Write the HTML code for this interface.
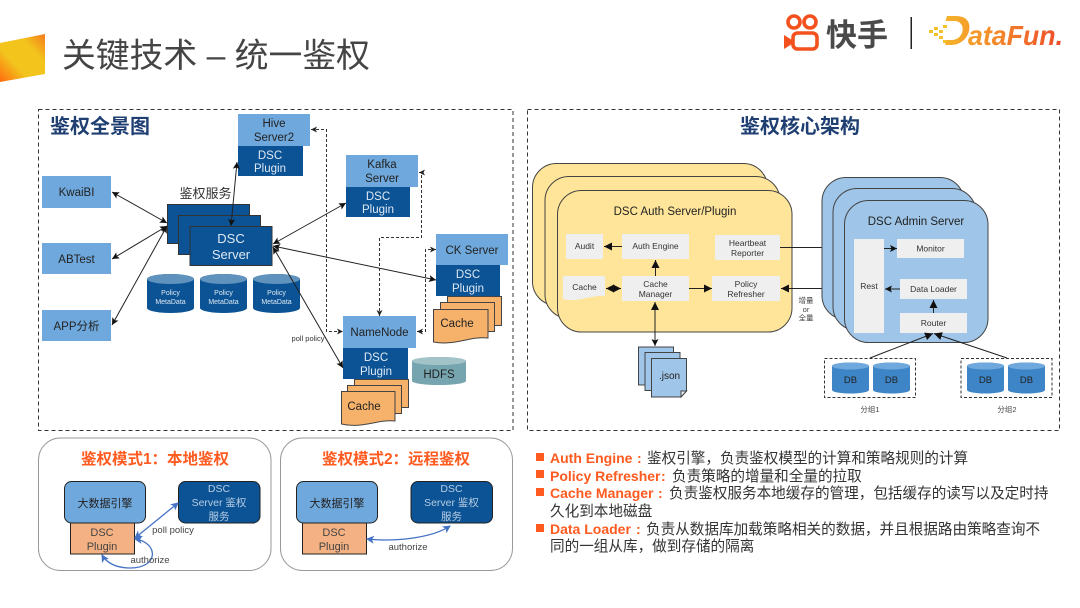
<!DOCTYPE html>
<html><head><meta charset="utf-8">
<style>
html,body{margin:0;padding:0;background:#fff;width:1080px;height:608px;overflow:hidden}
svg{display:block}
text{font-family:"Liberation Sans","Noto Sans CJK SC",sans-serif;text-anchor:middle}
.w{fill:#dfe9f4}.k{fill:#222}.g{fill:#333}
.l{stroke:#222;stroke-width:1;fill:none}
.d{stroke:#333;stroke-width:1;fill:none;stroke-dasharray:3 2}
.box{fill:#efefef}
.t{text-anchor:start;font-size:14.6px}
.o{fill:#ff5a1f;font-weight:700;font-size:14px}
</style></head><body>
<svg width="1080" height="608" viewBox="0 0 1080 608" xmlns="http://www.w3.org/2000/svg">
<defs>
<marker id="a" markerWidth="8" markerHeight="8" refX="7" refY="3.5" orient="auto-start-reverse" markerUnits="userSpaceOnUse"><path d="M0 0L7 3.5L0 7L1.5 3.5z" fill="#111"/></marker>
<marker id="e" markerWidth="7" markerHeight="7" refX="6" refY="3" orient="auto-start-reverse" markerUnits="userSpaceOnUse"><path d="M0 0L6 3L0 6L1.500 3z" fill="#222"/></marker>
<marker id="b" markerWidth="9" markerHeight="9" refX="8" refY="4" orient="auto-start-reverse" markerUnits="userSpaceOnUse"><path d="M0 0L8 4L0 8z" fill="#111"/></marker>
<marker id="c" markerWidth="9" markerHeight="9" refX="7" refY="4" orient="auto-start-reverse" markerUnits="userSpaceOnUse"><path d="M0 0L8 4L0 8L2 4z" fill="#4472c4"/></marker>
<linearGradient id="f" x1="0" y1="1" x2="1" y2="0"><stop offset="0" stop-color="#ff6a10"/><stop offset=".35" stop-color="#f2c41c"/><stop offset=".7" stop-color="#f2c41c"/><stop offset="1" stop-color="#f77a1c"/></linearGradient>
<linearGradient id="df" gradientUnits="userSpaceOnUse" x1="930" y1="0" x2="1063" y2="0"><stop offset="0" stop-color="#f6c02a"/><stop offset=".5" stop-color="#f4882a"/><stop offset="1" stop-color="#ee4b2a"/></linearGradient>
</defs>

<!-- header -->
<polygon points="0,43 45,34 45,74 0,82" fill="url(#f)"/>
<text x="62" y="67" style="text-anchor:start;font-size:33.8px" fill="#444">关键技术 – 统一鉴权</text>
<g fill="none" stroke="#f4511e" stroke-width="3.6">
<circle cx="794" cy="22" r="6"/><circle cx="810" cy="22" r="6"/>
<rect x="793" y="33" width="24" height="16" rx="4.500"/></g>
<path d="M784 35l8 5v4l-8 5z" fill="#f4511e"/>
<text x="857" y="46" style="font-size:31px;font-weight:700" fill="#4a4a4a">快手</text>
<rect x="910.500" y="17" width="1.500" height="32" fill="#222"/>
<g fill="#f6c02a"><rect x="929" y="30" width="4" height="3"/><rect x="934" y="27" width="4" height="3"/><rect x="934" y="33" width="4" height="3"/><rect x="939" y="30" width="4" height="3"/><rect x="939" y="36" width="4" height="3"/><rect x="943" y="25" width="4" height="3"/><rect x="943" y="40" width="4" height="3"/></g>
<path d="M947 16h9c11 0 15 7 13 15-2 8-9 14-18 14h-6l1.500-5h5c6 0 10-4 11-9s-2-10-8-10h-9z" fill="url(#df)"/>
<text x="1015.500" y="45" style="font-size:28px;font-weight:700;font-style:italic" fill="url(#df)" textLength="95" lengthAdjust="spacingAndGlyphs">ataFun.</text>

<!-- frames -->
<rect x="38.500" y="109.500" width="474.500" height="321" fill="none" stroke="#333" stroke-dasharray="4 3"/>
<rect x="527.500" y="109.500" width="532" height="321" fill="none" stroke="#333" stroke-dasharray="4 3"/>
<text x="100" y="133" style="font-size:20px;font-weight:700" fill="#1f3f73">鉴权全景图</text>
<text x="800" y="133" style="font-size:20px;font-weight:700" fill="#1f3f73">鉴权核心架构</text>

<!-- left nodes -->
<g fill="#6fa8dc">
<rect x="42" y="176" width="69" height="32"/><rect x="42" y="243" width="69" height="31"/><rect x="42" y="310" width="69" height="31"/>
<rect x="238" y="114" width="72" height="32"/><rect x="346" y="155" width="72" height="32"/><rect x="436" y="234" width="72" height="31"/><rect x="343" y="316" width="73" height="32"/></g>
<g font-size="11.500" class="k"><text x="76.500" y="196">KwaiBI</text><text x="76.500" y="263">ABTest</text><text x="76.500" y="330">APP分析</text></g>
<g fill="#0b5394">
<rect x="238" y="146" width="65" height="30"/><rect x="346" y="187" width="64" height="30"/><rect x="436" y="265" width="64" height="31"/><rect x="343" y="348" width="65" height="31"/></g>
<g font-size="11.500" class="k"><text x="274" y="127">Hive</text><text x="274" y="141">Server2</text>
<text x="382" y="168">Kafka</text><text x="382" y="182">Server</text><text x="472" y="254">CK Server</text><text x="379.500" y="336">NameNode</text></g>
<g font-size="11.500" class="w"><text x="270" y="159">DSC</text><text x="270" y="172">Plugin</text>
<text x="378" y="200">DSC</text><text x="378" y="213">Plugin</text><text x="468" y="278">DSC</text><text x="468" y="292">Plugin</text><text x="376" y="361">DSC</text><text x="376" y="375">Plugin</text></g>

<text x="205.500" y="198" style="font-size:13px" fill="#333">鉴权服务</text>
<g fill="#0b5394" stroke="#333" stroke-width="1"><rect x="167.500" y="204.500" width="82" height="39"/><rect x="178.500" y="215.500" width="82" height="39"/><rect x="190" y="226.500" width="82" height="39"/></g>
<text x="231" y="243" style="font-size:13px" class="w">DSC</text><text x="231" y="259" style="font-size:13px" class="w">Server</text>

<!-- policy cylinders -->
<g fill="#0b5394">
<path d="M147 279a23.500 5 0 0 1 47 0v29a23.500 5 0 0 1-47 0z"/><path d="M200 279a23.500 5 0 0 1 47 0v29a23.500 5 0 0 1-47 0z"/><path d="M253 279a23.500 5 0 0 1 47 0v29a23.500 5 0 0 1-47 0z"/></g>
<g fill="#5f93bd"><ellipse cx="170.500" cy="279" rx="23.500" ry="5"/><ellipse cx="223.500" cy="279" rx="23.500" ry="5"/><ellipse cx="276.500" cy="279" rx="23.500" ry="5"/></g>
<g font-size="7" class="w"><text x="170.500" y="295">Policy</text><text x="170.500" y="304">MetaData</text><text x="223.500" y="295">Policy</text><text x="223.500" y="304">MetaData</text><text x="276.500" y="295">Policy</text><text x="276.500" y="304">MetaData</text></g>

<!-- cache stacks -->
<g fill="#f6b26b" stroke="#444" stroke-width="1">
<rect x="447.500" y="296.500" width="54" height="29"/><rect x="440.500" y="302.500" width="54" height="29"/>
<path d="M433.500 309.500H488V338C470 336 455 346 433.500 342z"/>
<rect x="354.500" y="379.500" width="54" height="28"/><rect x="347.500" y="385.500" width="54" height="28"/>
<path d="M341.500 391.500H395V421C378 419 362 429 341.500 424z"/></g>
<text x="457" y="327" font-size="11.500" class="k">Cache</text><text x="364" y="410" font-size="11.500" class="k">Cache</text>
<!-- HDFS -->
<path d="M412 361a27 4 0 0 1 54 0v20a27 4 0 0 1-54 0z" fill="#76a5af"/><ellipse cx="439" cy="361" rx="27" ry="4" fill="#a2c4c9"/>
<text x="439" y="378" font-size="11.500" class="k">HDFS</text>

<!-- left connectors -->
<g class="l">
<line x1="112" y1="192" x2="167" y2="223" marker-start="url(#a)" marker-end="url(#a)"/>
<line x1="112" y1="259" x2="167" y2="226" marker-start="url(#a)" marker-end="url(#a)"/>
<line x1="112" y1="325" x2="167" y2="226" marker-start="url(#a)" marker-end="url(#a)"/>
<line x1="237" y1="162" x2="231" y2="226" marker-start="url(#a)" marker-end="url(#a)"/>
<line x1="346" y1="203" x2="273" y2="244" marker-start="url(#a)" marker-end="url(#a)"/>
<line x1="436" y1="280" x2="273" y2="246" marker-start="url(#a)" marker-end="url(#a)"/>
<line x1="343" y1="368" x2="273" y2="247" marker-start="url(#a)" marker-end="url(#a)"/>
</g>
<text x="308" y="341" font-size="7.500" fill="#333">poll policy</text>
<path class="d" d="M311 129.500H326.500V331.500H343" marker-start="url(#e)" marker-end="url(#e)"/>
<path class="d" d="M419 172.500H421.500V237.500H379.500V316" marker-start="url(#e)" marker-end="url(#e)"/>
<path class="d" d="M436 249.500H425.500V331.500H417" marker-start="url(#e)" marker-end="url(#e)"/>

<!-- auth server -->
<g fill="#ffe599" stroke="#444" stroke-width="1">
<rect x="532.500" y="163.500" width="235" height="142" rx="24"/>
<rect x="545" y="176.500" width="235" height="142" rx="24"/>
<rect x="557.500" y="190.500" width="234.500" height="141.500" rx="24"/></g>
<text x="675" y="215" font-size="11.500" class="k">DSC Auth Server/Plugin</text>
<g class="box"><rect x="566" y="234" width="37" height="25"/><rect x="622" y="234" width="67" height="25"/><rect x="715" y="235" width="65" height="25"/><rect x="622" y="276" width="67" height="25"/><rect x="712" y="276" width="68" height="25"/>
<path d="M563 276H605V296C590 295 578 303 563 299z"/></g>
<g font-size="8.500" class="g"><text x="584.500" y="249">Audit</text><text x="655.500" y="249">Auth Engine</text>
<text x="747.500" y="246">Heartbeat</text><text x="747.500" y="256">Reporter</text><text x="584.500" y="290">Cache</text>
<text x="655.500" y="287">Cache</text><text x="655.500" y="297">Manager</text><text x="746" y="287">Policy</text><text x="746" y="297">Refresher</text></g>
<g class="l">
<line x1="622" y1="246.500" x2="604" y2="246.500" marker-end="url(#b)"/>
<line x1="655.500" y1="276" x2="655.500" y2="260" marker-end="url(#b)"/>
<line x1="606" y1="288.500" x2="621" y2="288.500" marker-start="url(#b)" marker-end="url(#b)"/>
<line x1="689" y1="288.500" x2="712" y2="288.500" marker-end="url(#b)"/>
<line x1="655" y1="302" x2="655" y2="346" marker-start="url(#b)" marker-end="url(#a)"/>
<line x1="780" y1="247.500" x2="854" y2="247.500" marker-end="url(#b)"/>
<line x1="854" y1="288.500" x2="781" y2="288.500" marker-end="url(#b)"/>
</g>
<!-- json -->
<g fill="#9fc5e8" stroke="#444" stroke-width="1">
<rect x="638.500" y="347" width="35" height="38"/><rect x="645" y="352.500" width="35" height="38"/>
<path d="M651.500 358.500H686.500V391L681 397H651.500z"/></g>
<path d="M686.500 391H681V397z" fill="#e8eef5" stroke="#444"/>
<text x="669.500" y="379" font-size="10" class="k">.json</text>

<!-- admin server -->
<g fill="#9fc5e8" stroke="#444" stroke-width="1">
<rect x="822" y="177.500" width="142" height="142" rx="24"/>
<rect x="833" y="188.500" width="143" height="142" rx="24"/>
<rect x="844.500" y="200.500" width="143.500" height="142" rx="24"/></g>
<text x="916" y="225" font-size="11.500" class="k">DSC Admin Server</text>
<g class="box"><rect x="854" y="239" width="30" height="94"/><rect x="897" y="239" width="67" height="19"/><rect x="900" y="279" width="67" height="20"/><rect x="900" y="313" width="67" height="20"/></g>
<g font-size="8.500" class="g"><text x="869" y="289">Rest</text><text x="930.500" y="251.500">Monitor</text><text x="933.500" y="292">Data Loader</text><text x="933.500" y="326">Router</text></g>
<g class="l">
<line x1="884" y1="248.500" x2="897" y2="248.500" marker-end="url(#a)"/>
<line x1="900" y1="289" x2="885" y2="289" marker-end="url(#a)"/>
<line x1="933.500" y1="313" x2="933.500" y2="300" marker-end="url(#b)"/>
<line x1="870" y1="358" x2="933" y2="333.500" marker-end="url(#b)"/>
<line x1="1007" y1="358" x2="934" y2="333.500" marker-end="url(#b)"/>
</g>
<g font-size="7.500" fill="#444"><text x="806" y="303">增量</text><text x="806" y="312">or</text><text x="806" y="320.500">全量</text></g>
<g fill="none" stroke="#333" stroke-dasharray="3 2"><rect x="824.500" y="358.500" width="91" height="39"/><rect x="961" y="358.500" width="91" height="39"/></g>
<g fill="#3d85c6">
<path d="M832 366a18.500 3.500 0 0 1 37 0v24a18.500 3.500 0 0 1-37 0z"/><path d="M873 366a18.500 3.500 0 0 1 37 0v24a18.500 3.500 0 0 1-37 0z"/><path d="M967 366a18.500 3.500 0 0 1 37 0v24a18.500 3.500 0 0 1-37 0z"/><path d="M1008 366a18.500 3.500 0 0 1 37 0v24a18.500 3.500 0 0 1-37 0z"/></g>
<g fill="#6fa8dc"><ellipse cx="850.500" cy="366" rx="18.500" ry="3.500"/><ellipse cx="891.500" cy="366" rx="18.500" ry="3.500"/><ellipse cx="985.500" cy="366" rx="18.500" ry="3.500"/><ellipse cx="1026.500" cy="366" rx="18.500" ry="3.500"/></g>
<g font-size="9.500" class="k"><text x="850.500" y="383">DB</text><text x="891.500" y="383">DB</text><text x="985.500" y="383">DB</text><text x="1026.500" y="383">DB</text></g>
<g font-size="7.500" fill="#444"><text x="870" y="412">分组1</text><text x="1007" y="412">分组2</text></g>

<!-- bottom panels -->
<rect x="38.500" y="438" width="232.500" height="132.500" rx="22" fill="#fff" stroke="#999"/>
<rect x="280.500" y="438" width="232" height="132.500" rx="22" fill="#fff" stroke="#999"/>
<text x="155" y="464" style="font-size:15.500px;font-weight:700" fill="#ff5a1f">鉴权模式1：本地鉴权</text>
<text x="396" y="464" style="font-size:15.500px;font-weight:700" fill="#ff5a1f">鉴权模式2：远程鉴权</text>

<g stroke="#222" stroke-width="1">
<rect x="70.500" y="523" width="64" height="31" fill="#f4b183"/><rect x="302.500" y="523" width="64" height="31" fill="#f4b183"/>
<rect x="64.500" y="481.500" width="81" height="41.500" rx="7" fill="#6fa8dc"/><rect x="296.500" y="481.500" width="81" height="41.500" rx="7" fill="#6fa8dc"/>
<rect x="178.500" y="481.500" width="81.500" height="41.500" rx="7" fill="#0b5394"/><rect x="411" y="481.500" width="81.500" height="41.500" rx="7" fill="#0b5394"/></g>
<g font-size="11" class="k"><text x="105" y="507">大数据引擎</text><text x="337" y="507">大数据引擎</text></g>
<g font-size="11" fill="#444"><text x="102" y="536">DSC</text><text x="102" y="550">Plugin</text><text x="334" y="536">DSC</text><text x="334" y="550">Plugin</text></g>
<g font-size="10.500" fill="#b9cde4"><text x="219" y="492">DSC</text><text x="219" y="506">Server 鉴权</text><text x="219" y="520">服务</text>
<text x="451.500" y="492">DSC</text><text x="451.500" y="506">Server 鉴权</text><text x="451.500" y="520">服务</text></g>
<g fill="none" stroke="#4472c4" stroke-width="1.300">
<line x1="135" y1="538" x2="178" y2="503" marker-start="url(#c)" marker-end="url(#c)"/>
<path d="M135 539C158 542 160 568 130 568C115 568 106 562 102 555" marker-start="url(#c)" marker-end="url(#c)"/>
<path d="M367 539C395 542 432 538 450 526" marker-start="url(#c)" marker-end="url(#c)"/>
</g>
<g font-size="9.500" fill="#444"><text x="173" y="533">poll policy</text><text x="150" y="563">authorize</text><text x="408" y="550">authorize</text></g>

<!-- bullets -->
<g fill="#ff5a1f"><rect x="536" y="453" width="8" height="8"/><rect x="536" y="470" width="8" height="8"/><rect x="536" y="488" width="8" height="8"/><rect x="536" y="524" width="8" height="8"/></g>
<g fill="#333">
<text x="550" y="463" class="t"><tspan class="o">Auth Engine</tspan><tspan class="o" x="637">:</tspan><tspan x="647">鉴权引擎，负责鉴权模型的计算和策略规则的计算</tspan></text>
<text x="550" y="481" class="t"><tspan class="o">Policy Refresher</tspan><tspan class="o" x="661">:</tspan><tspan x="672">负责策略的增量和全量的拉取</tspan></text>
<text x="550" y="498" class="t"><tspan class="o">Cache Manager</tspan><tspan class="o" x="658">:</tspan><tspan x="669">负责鉴权服务本地缓存的管理，包括缓存的读写以及定时持</tspan></text>
<text x="550" y="516" class="t">久化到本地磁盘</text>
<text x="550" y="534" class="t"><tspan class="o">Data Loader</tspan><tspan class="o" x="636">:</tspan><tspan x="646">负责从数据库加载策略相关的数据，并且根据路由策略查询不</tspan></text>
<text x="550" y="551" class="t">同的一组从库，做到存储的隔离</text>
</g>
</svg>
</body></html>
